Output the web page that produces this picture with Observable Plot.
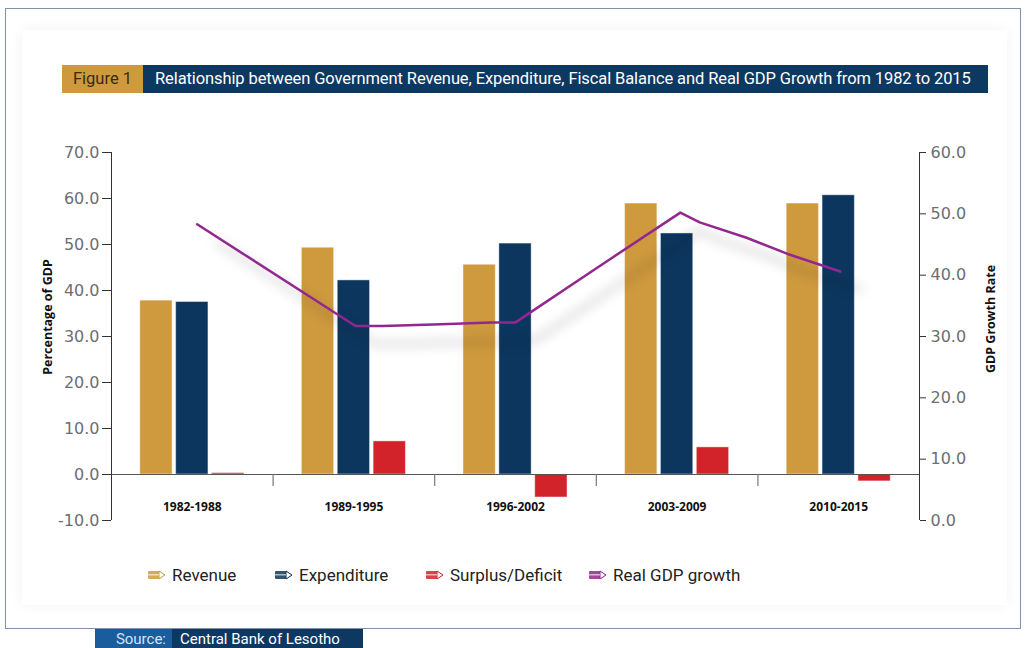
<!DOCTYPE html>
<html>
<head>
<meta charset="utf-8">
<script src="https://cdn.jsdelivr.net/npm/d3@7"></script>
<script src="https://cdn.jsdelivr.net/npm/@observablehq/plot@0.6"></script>
<style>
  html, body { margin: 0; padding: 0; background: #fff; }
  #wrap { position: relative; width: 1034px; height: 648px; overflow: hidden; font-family: Roboto, "Open Sans", sans-serif; }
  #frame { position: absolute; left: 5px; top: 8px; width: 1016px; height: 621px; border: 1px solid #7f93ab; box-sizing: border-box; }
  #inner { position: absolute; left: 22px; top: 30px; width: 985px; height: 575px; box-shadow: 0 0 14px rgba(0,0,0,0.05); }
  #titlebar { position: absolute; left: 62px; top: 65px; height: 28px; display: flex; }
  #fig { width: 81px; background: #CF9A3E; color: #3a2a12; font-size: 16.5px; line-height: 28px; text-align: center; }
  #ttl { width: 845px; background: #0D3862; color: #fff; font-size: 16.5px; line-height: 28px; padding-left: 12px; box-sizing: border-box; white-space: nowrap; letter-spacing: -0.1px; }
  #chart { position: absolute; left: 0; top: 100px; }
  #chart svg [aria-label="line"] { filter: drop-shadow(20px 18px 6px rgba(0,0,0,0.33)); }
  .ytitle { position: absolute; font-family: "Open Sans", sans-serif; font-weight: bold; font-size: 12.5px; color: #111; white-space: nowrap; transform: translate(-50%, -50%) rotate(-90deg); }
  #legend { position: absolute; top: 563px; left: 0; width: 1034px; height: 24px; }
  .li { position: absolute; top: 0; display: flex; align-items: center; font-size: 17px; color: #222; line-height: 24px; }
  .li svg { margin-right: 6px; }
  #source { position: absolute; left: 95px; top: 629px; height: 22px; display: flex; font-size: 15px; line-height: 20px; }
  #src1 { width: 77px; background: #1B5C9C; color: #d8e3ef; text-align: right; padding-right: 6px; box-sizing: border-box; }
  #src2 { width: 191px; background: #0D3862; color: #fff; padding-left: 8px; box-sizing: border-box; }
</style>
</head>
<body>
<div id="wrap">
  <div id="frame"></div>
  <div id="inner"></div>
  <div id="titlebar"><div id="fig">Figure 1</div><div id="ttl">Relationship between Government Revenue, Expenditure, Fiscal Balance and Real GDP Growth from 1982 to 2015</div></div>
  <div id="chart"></div>
  <div class="ytitle" style="left:47px; top:317px;">Percentage of GDP</div>
  <div class="ytitle" style="left:990px; top:319px;">GDP Growth Rate</div>
  <div id="legend"></div>
  <div id="source"><div id="src1">Source:</div><div id="src2">Central Bank of Lesotho</div></div>
</div>
<script>
// ---- data ----
const periods = ["1982-1988", "1989-1995", "1996-2002", "2003-2009", "2010-2015"];
const revenue = [37.8, 49.3, 45.6, 58.9, 58.9];
const expenditure = [37.5, 42.2, 50.2, 52.4, 60.7];
const surplus = [0.3, 7.2, -5.0, 5.9, -1.5];
// Real GDP growth line (position along category axis, value on right axis)
const gdpPos = [0.53, 1.51, 1.68, 2.04, 2.35, 2.50, 3.01, 3.52, 3.64, 3.93, 4.18, 4.51];
const gdpGrowth = [48.3, 31.7, 31.7, 32.0, 32.3, 32.3, 41.3, 50.2, 48.6, 46.1, 43.5, 40.6];
const leftTicks = [-10, 0, 10, 20, 30, 40, 50, 60, 70];
const rightTicks = [0, 10, 20, 30, 40, 50, 60];

const seriesNames = ["Revenue", "Expenditure", "Surplus/Deficit"];
const colors = {"Revenue": "#CF9A3E", "Expenditure": "#0D365F", "Surplus/Deficit": "#D2232A", "Real GDP growth": "#92278F"};
const seriesValues = [revenue, expenditure, surplus];

// right axis (0..60) mapped onto left axis (-10..70)
const toLeft = v => -10 + v * 80 / 60;
const toRight = d => (d + 10) * 60 / 80;

// cluster layout within each category band
const groupStart = 0.178, step = 0.222, barW = 0.2;

const rows = [];
periods.forEach((p, i) => {
  seriesNames.forEach((s, k) => {
    rows.push({period: p, i, series: s, k, value: seriesValues[k][i]});
  });
});
const gdp = gdpPos.map((x, j) => ({x, v: gdpGrowth[j]}));

const tickFont = "DejaVu Sans, Verdana, sans-serif";

const chart = Plot.plot({
  width: 1034,
  height: 440,
  marginLeft: 111,
  marginRight: 115,
  marginTop: 52,
  marginBottom: 20,
  x: {domain: [0, 5], axis: null},
  y: {domain: [-10, 70], axis: null},
  style: {background: "transparent", overflow: "visible"},
  marks: [
    Plot.rectY(rows, {
      x1: d => d.i + groupStart + d.k * step,
      x2: d => d.i + groupStart + d.k * step + barW,
      y1: 0,
      y2: "value",
      fill: d => colors[d.series],
      stroke: "#ffffff",
      strokeOpacity: 0.45,
      strokeWidth: 1
    }),
    Plot.ruleY([0], {x1: 0, x2: 5, stroke: "#555", strokeWidth: 1}),
    Plot.ruleX([1, 2, 3, 4], {y1: 0, y2: -2.6, stroke: "#777", strokeWidth: 1.2}),
    Plot.ruleX([0], {y1: -10, y2: 70, stroke: "#333", strokeWidth: 1}),
    Plot.ruleX([5], {y1: -10, y2: 70, stroke: "#333", strokeWidth: 1}),
    Plot.axisY({
      anchor: "left", ticks: leftTicks, tickSize: 9, tickPadding: 3,
      tickFormat: d => d.toFixed(1), fontSize: 16, fill: "#6d6e71", stroke: "#333",
      fontFamily: tickFont, label: null
    }),
    Plot.axisY({
      anchor: "right", ticks: rightTicks.map(toLeft), tickSize: 6, tickPadding: 5,
      tickFormat: d => toRight(d).toFixed(1), fontSize: 16, fill: "#6d6e71", stroke: "#333",
      fontFamily: tickFont, label: null
    }),
    Plot.text(periods, {
      x: (d, i) => i + 0.5, y: 0, dy: 33, text: d => d,
      fontWeight: "bold", fontSize: 12, fill: "#111",
      fontFamily: "Open Sans, sans-serif"
    }),
    Plot.line(gdp, {x: "x", y: d => toLeft(d.v), stroke: colors["Real GDP growth"], strokeWidth: 2.5})
  ]
});
document.getElementById("chart").appendChild(chart);

// legend
const legendItems = [
  {name: "Revenue", x: 147},
  {name: "Expenditure", x: 274},
  {name: "Surplus/Deficit", x: 425},
  {name: "Real GDP growth", x: 588}
];
const legend = document.getElementById("legend");
legendItems.forEach(it => {
  const c = colors[it.name];
  const div = document.createElement("div");
  div.className = "li";
  div.style.left = it.x + "px";
  div.innerHTML = `<svg width="19" height="10" viewBox="0 0 19 10">
    <path d="M1,2 Q1,1 2,1 L12,1 L18,5 L12,9 L2,9 Q1,9 1,8 Z" fill="${c}" opacity="0.85"/>
    <path d="M12,1 L18,5 L12,9 Z" fill="#fff" stroke="${c}" stroke-width="1"/>
    <rect x="1" y="4" width="11" height="1.5" fill="#fff" opacity="0.6"/>
  </svg><span>${it.name}</span>`;
  legend.appendChild(div);
});
</script>
</body>
</html>
